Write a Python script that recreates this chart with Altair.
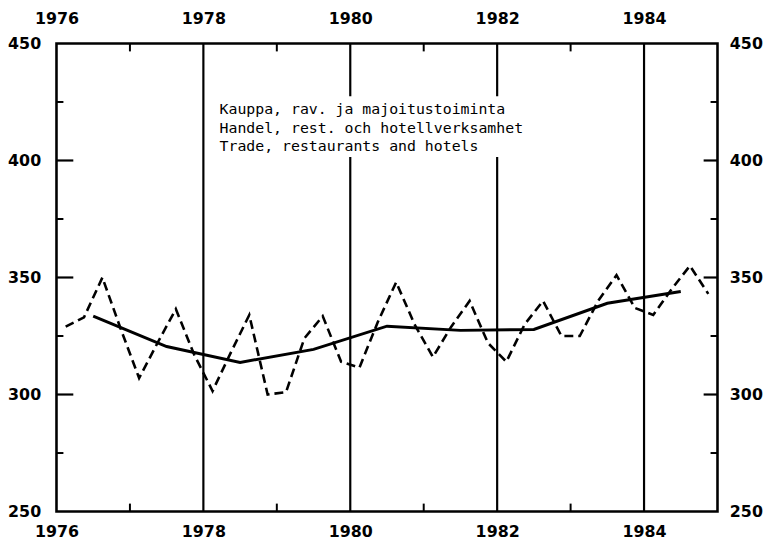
import altair as alt
import pandas as pd

# ---- data ----
years = [1976, 1977, 1978, 1979, 1980, 1981, 1982, 1983, 1984]
quarterly = [
    329, 333, 350, 328,
    307, 322, 336.5, 317,
    301.5, 318, 334, 300,
    301, 324, 333.5, 314,
    311.5, 331, 348, 330,
    316, 329, 340, 322,
    314, 330, 340, 325,
    325, 340, 351, 337,
    334, 345, 355, 343,
]
trend = [333.5, 320.5, 313.7, 319.3, 329.2, 327.4, 327.8, 339.0, 344.0]

x_labels = [1976, 1978, 1980, 1982, 1984]
grid_years = [1978, 1980, 1982, 1984]
minor_x = [1977, 1979, 1981, 1983]
y_labels = [250, 300, 350, 400, 450]
major_y = [300, 350, 400]
minor_y = [275, 325, 375, 425]
caption = [
    "Kauppa, rav. ja majoitustoiminta",
    "Handel, rest. och hotellverksamhet",
    "Trade, restaurants and hotels",
]
caption_x = 1978.22
caption_y = [422.0, 414.0, 406.0]
box = {"x": 1978.1, "x2": 1982.35, "y": 401.5, "y2": 427.5}

W, H = 668, 473
LABEL_FONT = "DejaVu Sans"

q_df = pd.DataFrame({
    "t": [y + (q - 0.5) / 4 for y in years for q in range(1, 5)],
    "v": quarterly,
})
t_df = pd.DataFrame({"t": [y + 0.5 for y in years], "v": trend})

xs = alt.Scale(domain=[1976, 1985], nice=False, zero=False)
ys = alt.Scale(domain=[250, 450], nice=False, zero=False)


def xaxis(orient, pad):
    return alt.Axis(orient=orient, values=x_labels, format="d", ticks=False,
                    domain=False, grid=False, labelFlush=False, labelPadding=pad,
                    labelFont=LABEL_FONT, labelFontSize=16, labelFontWeight="bold",
                    labelColor="black", title=None)


def yaxis(orient, pad):
    return alt.Axis(orient=orient, values=y_labels, format="d", ticks=False,
                    domain=False, grid=False, labelFlush=False, labelPadding=pad,
                    labelFont=LABEL_FONT, labelFontSize=16, labelFontWeight="bold",
                    labelColor="black", title=None)


dashed = alt.Chart(q_df).mark_line(
    color="black", strokeWidth=2.6, strokeDash=[9, 5]
).encode(
    x=alt.X("t:Q", scale=xs, axis=xaxis("bottom", 12)),
    y=alt.Y("v:Q", scale=ys, axis=yaxis("left", 16)),
)

solid = alt.Chart(t_df).mark_line(color="black", strokeWidth=3).encode(
    x=alt.X("t:Q", scale=xs, axis=xaxis("top", 17)),
    y=alt.Y("v:Q", scale=ys, axis=yaxis("right", 12)),
)

grid = alt.Chart(pd.DataFrame({"t": grid_years})).mark_rule(
    color="black", strokeWidth=2.2
).encode(x=alt.X("t:Q", scale=xs, axis=None))

white_box = alt.Chart(pd.DataFrame([box])).mark_rect(color="white").encode(
    x=alt.X("x:Q", scale=xs, axis=None), x2="x2:Q",
    y=alt.Y("y:Q", scale=ys, axis=None), y2="y2:Q",
)

minor_x_df = pd.DataFrame({"t": minor_x})
tick_bottom = alt.Chart(minor_x_df).mark_rule(color="black", strokeWidth=2).encode(
    x=alt.X("t:Q", scale=xs, axis=None), y=alt.value(H), y2=alt.value(H - 8)
)
tick_top = alt.Chart(minor_x_df).mark_rule(color="black", strokeWidth=2).encode(
    x=alt.X("t:Q", scale=xs, axis=None), y=alt.value(0), y2=alt.value(8)
)

major_y_df = pd.DataFrame({"v": major_y})
minor_y_df = pd.DataFrame({"v": minor_y})
tick_left_major = alt.Chart(major_y_df).mark_rule(color="black", strokeWidth=2.2).encode(
    y=alt.Y("v:Q", scale=ys, axis=None), x=alt.value(0), x2=alt.value(17)
)
tick_left_minor = alt.Chart(minor_y_df).mark_rule(color="black", strokeWidth=2).encode(
    y=alt.Y("v:Q", scale=ys, axis=None), x=alt.value(0), x2=alt.value(7)
)
tick_right_major = alt.Chart(major_y_df).mark_rule(color="black", strokeWidth=2.2).encode(
    y=alt.Y("v:Q", scale=ys, axis=None), x=alt.value(W), x2=alt.value(W - 14)
)
tick_right_minor = alt.Chart(minor_y_df).mark_rule(color="black", strokeWidth=2).encode(
    y=alt.Y("v:Q", scale=ys, axis=None), x=alt.value(W), x2=alt.value(W - 7)
)

text = alt.Chart(pd.DataFrame({"s": caption, "y": caption_y, "x": [caption_x] * 3})).mark_text(
    align="left", baseline="middle", font="DejaVu Sans Mono", fontSize=15, color="black"
).encode(
    x=alt.X("x:Q", scale=xs, axis=None),
    y=alt.Y("y:Q", scale=ys, axis=None),
    text="s:N",
)

chart = alt.layer(
    dashed, solid, grid, white_box, tick_bottom, tick_top,
    tick_left_major, tick_left_minor, tick_right_major, tick_right_minor, text,
).resolve_scale(x="independent", y="independent").properties(
    width=W, height=H,
    autosize=alt.AutoSizeParams(type="none"),
    padding={"left": 49, "top": 33, "right": 47, "bottom": 33},
    background="white",
).configure_view(stroke="black", strokeWidth=2.6)

chart.save("out.html", embed_options={"renderer": "svg", "actions": False})
